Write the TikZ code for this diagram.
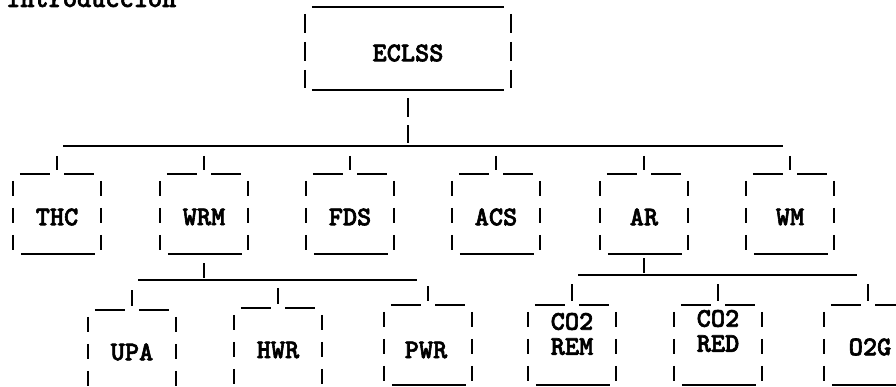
\documentclass[tikz,border=0pt]{standalone}
\usepackage{fontspec}
\newfontfamily\twfont{lmmonolt10-bold.otf}[FakeBold=2.2]
\newcommand\mkframe[1]{%
  \draw[ln] ([xshift=7pt]#1.north west) -- ([xshift=-7pt]#1.north);
  \draw[ln] ([xshift=7pt]#1.north) -- ([xshift=-7pt]#1.north east);
  \draw[ln] ([xshift=8pt]#1.south west) -- ([xshift=-6pt]#1.south east);
  \draw[ln,vd] ([yshift=-7pt]#1.north west) -- ([yshift=4pt]#1.south west);
  \draw[ln,vd] ([yshift=-7pt]#1.north east) -- ([yshift=4pt]#1.south east);
}
\begin{document}
\begin{tikzpicture}[x=1pt,y=-1pt,
  every node/.style={inner sep=0pt,font=\twfont\fontsize{27}{25}\selectfont},
  ln/.style={line width=2pt,black},
  vd/.style={dash pattern=on 15pt off 12pt on 15pt off 12pt on 15pt off 60pt},
  bvd/.style={dash pattern=on 19pt off 9pt on 19pt off 9pt on 19pt off 60pt},
  boxf/.style={minimum width=88pt,minimum height=80pt},
  bigbox/.style={minimum width=206pt,minimum height=83pt},
  lbl/.style={align=center}]
\useasboundingbox (0,0) rectangle (896,387);
\clip (0,0) rectangle (896,387);
\fill[white] (0,0) rectangle (896,387);

\node[anchor=base west] (intro) at (6,7) {Introducción};

% top box
\node[bigbox] (eclss) at (408,48.5) {};
\node[lbl] (eclss-t) at (408,53) {ECLSS};
\draw[ln] ([xshift=7pt]eclss.north west) -- ([xshift=-7pt]eclss.north east);
\draw[ln] ([xshift=7pt]eclss.south west) -- ([xshift=-7pt]eclss.south east);
\draw[ln,bvd] ([yshift=-7pt]eclss.north west) -- ([yshift=2pt]eclss.south west);
\draw[ln,bvd] ([yshift=-7pt]eclss.north east) -- ([yshift=2pt]eclss.south east);

% first level
\foreach \n/\x/\t in {thc/57/THC,wrm/204/WRM,fds/350/FDS,acs/496/ACS,ar/644/AR,wm/790/WM}{
  \node[boxf] (\n) at (\x,214) {};
  \node[lbl] (\n-t) at (\x,217) {\t};
  \mkframe{\n}
  \coordinate (\n-d) at (\x,146);
  \draw[ln] ([yshift=-10pt]\n-d) -- ([yshift=4pt]\n.north);
}
\coordinate (bus1L) at (63,146);
\coordinate (bus1R) at (783,146);
\coordinate (busE) at (408,146);
\draw[ln] (bus1L) -- (bus1R);
\draw[ln,dash pattern=on 19pt off 8pt on 18pt off 60pt] ([yshift=-8pt]eclss.south) -- ([yshift=3pt]busE);

% second level under WRM
\node[boxf] (upa) at (132,350) {};
\node[lbl] (upa-t) at (132,352) {UPA};
\node[boxf] (hwr) at (278,348) {};
\node[lbl] (hwr-t) at (278,350) {HWR};
\node[boxf] (pwr) at (428,345) {};
\node[lbl] (pwr-t) at (426,350) {PWR};
\foreach \n in {upa,hwr,pwr}{\mkframe{\n}}
\coordinate (bus2L) at (138,280);
\coordinate (bus2R) at (417,280);
\coordinate (bus2W) at (204,280);
\draw[ln] (bus2L) -- (bus2R);
\draw[ln] ([yshift=-9pt]wrm.south) -- ([yshift=2pt]bus2W);
\coordinate (upa-d) at (132,280);
\coordinate (hwr-d) at (278,278);
\coordinate (pwr-d) at (428,276);
\foreach \n in {upa,hwr,pwr}{\draw[ln] ([yshift=-10pt]\n-d) -- ([yshift=4pt]\n.north);}

% second level under AR
\node[boxf] (rem) at (572,345) {};
\node[lbl] (rem-t) at (572,334) {CO2\\REM};
\node[boxf] (red) at (718,345) {};
\node[lbl] (red-t) at (718,331) {CO2\\RED};
\node[boxf] (o2g) at (868,345) {};
\node[lbl] (o2g-t) at (870,347) {O2G};
\foreach \n in {rem,red,o2g}{\mkframe{\n}}
\coordinate (bus3L) at (578,275);
\coordinate (bus3R) at (857,275);
\coordinate (bus3A) at (644,275);
\draw[ln] (bus3L) -- (bus3R);
\draw[ln] ([yshift=-4pt]ar.south) -- ([yshift=2pt]bus3A);
\coordinate (rem-d) at (572,275);
\coordinate (red-d) at (718,275);
\coordinate (o2g-d) at (868,275);
\foreach \n in {rem,red,o2g}{\draw[ln] ([yshift=-9pt]\n-d) -- ([yshift=4pt]\n.north);}
\end{tikzpicture}
\end{document}
